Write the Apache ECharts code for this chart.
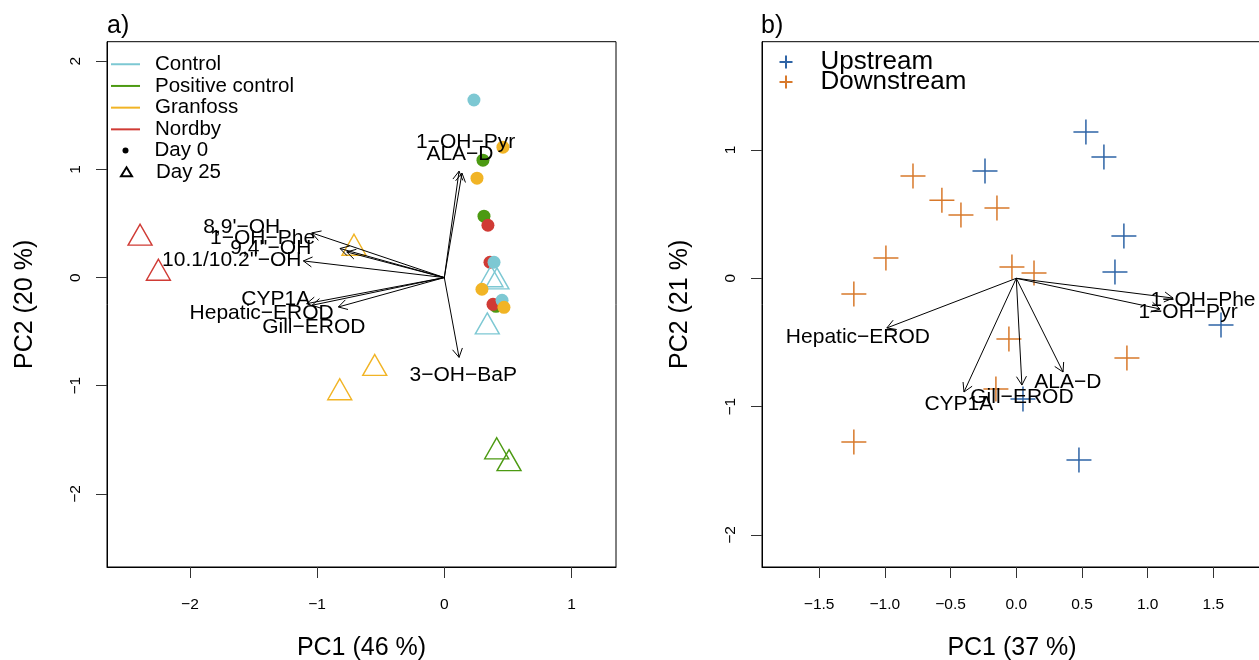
<!DOCTYPE html>
<html>
<head>
<meta charset="utf-8">
<script src="https://cdn.jsdelivr.net/npm/echarts@6/dist/echarts.min.js"></script>
<style>
html, body { margin: 0; padding: 0; background: #fff; }
#chart { width: 1259px; height: 660px; }
</style>
</head>
<body>
<div id="chart"></div>
<script>
// a) caged fish PCA, b) wild fish PCA
var FONT = '"Liberation Sans", Arial, Helvetica, sans-serif';

// panel a) scores, [PC1, PC2]
var controlDay0 = [[0.233, 1.642], [0.391, 0.142], [0.454, -0.21]];
var controlDay25 = [[0.367, -0.02], [0.414, -0.04], [0.338, -0.456]];
var positiveDay0 = [[0.304, 1.086], [0.312, 0.568], [0.406, -0.266]];
var positiveDay25 = [[0.412, -1.611], [0.509, -1.72]];
var granfossDay0 = [[0.461, 1.206], [0.257, 0.919], [0.296, -0.108], [0.469, -0.275]];
var granfossDay25 = [[-0.71, 0.271], [-0.547, -0.84], [-0.822, -1.065]];
var nordbyDay0 = [[0.343, 0.484], [0.359, 0.142], [0.383, -0.247]];
var nordbyDay25 = [[-2.392, 0.364], [-2.248, 0.04]];

// panel a) loadings
var varNamesA = ['1−OH−Pyr', 'ALA−D', '3−OH−BaP', "8,9'−OH", '1−OH−Phe', "9,4''−OH",
  "10.1/10.2''−OH", 'CYP1A', 'Hepatic−EROD', 'Gill−EROD'];
var arrowTipsA = [[0.139, 0.966], [0.116, 0.984], [0.116, -0.738], [-1.042, 0.413], [-0.82, 0.269],
  [-0.767, 0.237], [-1.108, 0.154], [-1.082, -0.241], [-1.04, -0.256], [-0.833, -0.272]];
var labelPosA = [[0.167, 1.25], [0.123, 1.142], [0.149, -0.905], [-1.593, 0.469], [-1.429, 0.361],
  [-1.364, 0.268], [-1.671, 0.16], [-1.325, -0.204], [-1.436, -0.333], [-1.026, -0.457]];

// panel b) scores
var upstream = [[0.53, 1.14], [0.667, 0.945], [-0.238, 0.836], [0.819, 0.33], [0.751, 0.049],
  [1.558, -0.364], [0.051, -0.941], [0.477, -1.417]];
var downstream = [[-0.786, 0.797], [-0.566, 0.609], [-0.421, 0.493], [-0.147, 0.548], [-0.992, 0.158],
  [-1.236, -0.122], [-0.033, 0.088], [0.135, 0.041], [-0.056, -0.473], [-0.155, -0.862],
  [-1.236, -1.276], [0.842, -0.621]];

// panel b) loadings
var varNamesB = ['1−OH−Phe', '1−OH−Pyr', 'ALA−D', 'Gill−EROD', 'CYP1A', 'Hepatic−EROD'];
var arrowTipsB = [[1.193, -0.154], [1.094, -0.239], [0.356, -0.73], [0.043, -0.832], [-0.398, -0.886], [-0.985, -0.387]];
var labelPosB = [[1.421, -0.169], [1.307, -0.262], [0.393, -0.808], [0.043, -0.925], [-0.437, -0.98], [-1.205, -0.457]];

// tick labels
var ticksAX = [-2, -1, 0, 1];
var ticksAY = [-2, -1, 0, 1, 2];
var ticksBX = [-1.5, -1.0, -0.5, 0.0, 0.5, 1.0, 1.5];
var ticksBY = [-2, -1, 0, 1];

var colControl = '#7dc8d3', colPositive = '#4c9a12', colGranfoss = '#f1b425', colNordby = '#d03b35';
var colUp = '#2e64a6', colDown = '#d8792b';

function minusSign(s) { return String(s).replace('-', '−'); }

function points(day0, day25, color) {
  var out = day0.map(function (p) { return { value: p }; });
  day25.forEach(function (p) {
    out.push({
      value: p, symbol: 'triangle', symbolSize: [24, 21], symbolOffset: [0, -3.5],
      itemStyle: { color: 'rgba(0,0,0,0)', borderColor: color, borderWidth: 1.4 }
    });
  });
  return out;
}

function groupSeries(name, day0, day25, color) {
  return {
    name: name, type: 'scatter', xAxisIndex: 0, yAxisIndex: 0,
    symbol: 'circle', symbolSize: 13, itemStyle: { color: color, opacity: 1 },
    data: points(day0, day25, color), silent: true
  };
}

function renderArrow(params, api) {
  var o = api.coord([0, 0]);
  var t = api.coord([api.value(0), api.value(1)]);
  var ang = Math.atan2(t[1] - o[1], t[0] - o[0]);
  var L = 10, a = Math.PI / 6;
  var p1 = [t[0] - L * Math.cos(ang - a), t[1] - L * Math.sin(ang - a)];
  var p2 = [t[0] - L * Math.cos(ang + a), t[1] - L * Math.sin(ang + a)];
  return {
    type: 'group', children: [
      { type: 'line', shape: { x1: o[0], y1: o[1], x2: t[0], y2: t[1] }, style: { stroke: '#000', lineWidth: 1 } },
      { type: 'polyline', shape: { points: [p1, t, p2] }, style: { stroke: '#000', lineWidth: 1, fill: null } }
    ]
  };
}

function labelRenderer(names) {
  return function (params, api) {
    var p = api.coord([api.value(0), api.value(1)]);
    return {
      type: 'text', x: p[0], y: p[1],
      style: { text: names[params.dataIndex], fill: '#000', fontSize: 21, fontFamily: FONT, align: 'center', verticalAlign: 'middle' }
    };
  };
}

function valueAxis(grid, min, max, ticks, fmt, name, isY) {
  return {
    gridIndex: grid, type: 'value', min: min, max: max,
    axisLine: { show: true, onZero: false, lineStyle: { color: '#000', width: 1 } },
    axisTick: { show: true, length: 11, customValues: ticks, lineStyle: { color: '#333' } },
    axisLabel: {
      customValues: ticks, formatter: fmt, fontSize: 15.5, color: '#000', fontFamily: FONT,
      margin: isY ? 23 : 30, rotate: isY ? 90 : 0
    },
    splitLine: { show: false },
    name: name, nameLocation: 'middle', nameGap: 69,
    nameTextStyle: { fontSize: 25, color: '#000', fontFamily: FONT }
  };
}

var intFmt = function (v) { return minusSign(Math.round(v)); };
var decFmt = function (v) { return minusSign(v.toFixed(1)); };

var legendText = { fontSize: 20.5, color: '#000', fontFamily: FONT };

var chart = echarts.init(document.getElementById('chart'), null, { renderer: 'canvas' });

var option = {
  animation: false,
  backgroundColor: '#fff',
  title: [
    { text: 'a)', left: 107, top: 14, padding: 0, textStyle: { fontSize: 25, fontWeight: 'normal', color: '#000', fontFamily: FONT } },
    { text: 'b)', left: 761, top: 14, padding: 0, textStyle: { fontSize: 25, fontWeight: 'normal', color: '#000', fontFamily: FONT } }
  ],
  grid: [
    { left: 107, top: 41.7, right: 643, bottom: 93, show: true, borderColor: '#000', borderWidth: 1, outerBoundsMode: 'none', containLabel: false },
    { left: 762, top: 41.7, right: -3, bottom: 93, show: true, borderColor: '#000', borderWidth: 1, outerBoundsMode: 'none', containLabel: false }
  ],
  xAxis: [
    valueAxis(0, -2.652, 1.35, ticksAX, intFmt, 'PC1 (46 %)', false),
    valueAxis(1, -1.935, 1.87, ticksBX, decFmt, 'PC1 (37 %)', false)
  ],
  yAxis: [
    valueAxis(0, -2.676, 2.181, ticksAY, intFmt, 'PC2 (20 %)', true),
    valueAxis(1, -2.25, 1.844, ticksBY, intFmt, 'PC2 (21 %)', true)
  ],
  legend: [
    {
      data: ['Control', 'Positive control', 'Granfoss', 'Nordby'], orient: 'vertical', padding: 0,
      left: 111, top: 53.4, itemWidth: 29, itemHeight: 2, icon: 'rect', itemGap: 0, selectedMode: false,
      textStyle: Object.assign({ lineHeight: 21.7, padding: [0, 0, 0, 10] }, legendText)
    },
    {
      data: ['Day 0'], orient: 'vertical', padding: 0, left: 122.5, top: 139.7, itemWidth: 6, itemHeight: 6,
      icon: 'circle', itemGap: 0, selectedMode: false,
      textStyle: Object.assign({ lineHeight: 21.7, padding: [0, 0, 0, 21] }, legendText)
    },
    {
      data: ['Day 25'], orient: 'vertical', padding: 0, left: 120, top: 161, itemWidth: 11, itemHeight: 9,
      icon: 'triangle', itemGap: 0, selectedMode: false,
      textStyle: Object.assign({ lineHeight: 21.7, padding: [0, 0, 0, 19] }, legendText)
    },
    {
      data: ['Upstream', 'Downstream'], orient: 'vertical', padding: 0, left: 778.5, top: 49, itemWidth: 13, itemHeight: 13,
      itemGap: -6, selectedMode: false,
      textStyle: { fontSize: 26, lineHeight: 26, color: '#000', fontFamily: FONT, padding: [0, 0, 0, 23] }
    }
  ],
  series: [
    groupSeries('Positive control', positiveDay0, positiveDay25, colPositive),
    groupSeries('Nordby', nordbyDay0, nordbyDay25, colNordby),
    groupSeries('Control', controlDay0, controlDay25, colControl),
    groupSeries('Granfoss', granfossDay0, granfossDay25, colGranfoss),
    { name: 'Day 0', type: 'scatter', xAxisIndex: 0, yAxisIndex: 0, data: [], itemStyle: { color: '#000', opacity: 1 } },
    {
      name: 'Day 25', type: 'scatter', xAxisIndex: 0, yAxisIndex: 0, data: [], symbol: 'triangle',
      itemStyle: { color: 'rgba(0,0,0,0)', borderColor: '#000', borderWidth: 1.4, opacity: 1 }
    },
    { type: 'custom', xAxisIndex: 0, yAxisIndex: 0, data: arrowTipsA, renderItem: renderArrow, silent: true, z: 5 },
    { type: 'custom', xAxisIndex: 0, yAxisIndex: 0, data: labelPosA, renderItem: labelRenderer(varNamesA), silent: true, z: 5 },
    {
      name: 'Upstream', type: 'scatter', xAxisIndex: 1, yAxisIndex: 1, data: upstream,
      symbol: 'path://M0,5H10M5,0V10', symbolSize: 25, silent: true,
      itemStyle: { color: colUp, borderColor: colUp, borderWidth: 1.5, opacity: 1 }
    },
    {
      name: 'Downstream', type: 'scatter', xAxisIndex: 1, yAxisIndex: 1, data: downstream,
      symbol: 'path://M0,5H10M5,0V10', symbolSize: 25, silent: true,
      itemStyle: { color: colDown, borderColor: colDown, borderWidth: 1.5, opacity: 1 }
    },
    { type: 'custom', xAxisIndex: 1, yAxisIndex: 1, data: arrowTipsB, renderItem: renderArrow, silent: true, z: 5 },
    { type: 'custom', xAxisIndex: 1, yAxisIndex: 1, data: labelPosB, renderItem: labelRenderer(varNamesB), silent: true, z: 5 }
  ]
};

chart.setOption(option);
</script>
</body>
</html>
